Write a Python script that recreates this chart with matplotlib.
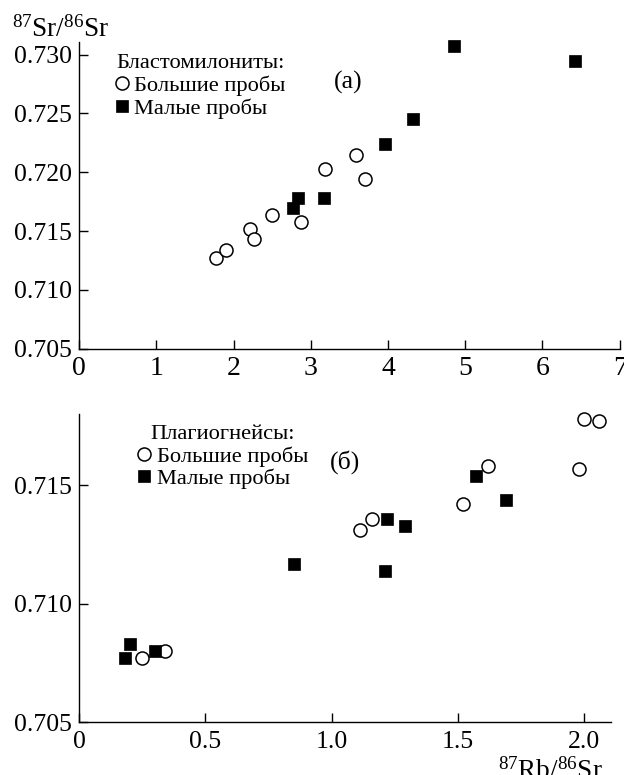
import matplotlib
matplotlib.use("Agg")
import matplotlib.pyplot as plt
from matplotlib.lines import Line2D

plt.rcParams['font.family'] = ['Liberation Serif', 'DejaVu Sans']
plt.rcParams['mathtext.fontset'] = 'custom'
plt.rcParams['mathtext.rm'] = 'Liberation Serif'
plt.rcParams['mathtext.it'] = 'Liberation Serif:italic'

# Panel (a): blastomylonites
a_big_x = [1.77, 1.90, 2.21, 2.26, 2.50, 2.87, 3.19, 3.59, 3.70]
a_big_y = [0.7127, 0.7134, 0.7152, 0.7143, 0.7164, 0.7158, 0.7203, 0.7215, 0.7194]
a_small_x = [2.77, 2.84, 3.17, 3.96, 4.32, 4.85, 6.42]
a_small_y = [0.7170, 0.7178, 0.7178, 0.7224, 0.7245, 0.7307, 0.7295]

# Panel (б): plagiogneisses
b_big_x = [0.25, 0.34, 1.11, 1.16, 1.52, 1.62, 1.98, 2.00, 2.06]
b_big_y = [0.7077, 0.7080, 0.7131, 0.7136, 0.7142, 0.7158, 0.7157, 0.7178, 0.7177]
b_small_x = [0.18, 0.20, 0.30, 0.85, 1.21, 1.22, 1.29, 1.57, 1.69]
b_small_y = [0.7077, 0.7083, 0.7080, 0.7117, 0.7114, 0.7136, 0.7133, 0.7154, 0.7144]

a_xticks = [0, 1, 2, 3, 4, 5, 6, 7]
a_yticks = [0.705, 0.710, 0.715, 0.720, 0.725, 0.730]
b_xticks = [0, 0.5, 1.0, 1.5, 2.0]
b_xticklabels = ['0', '0.5', '1.0', '1.5', '2.0']
b_yticks = [0.705, 0.710, 0.715]

W, H = 624, 775
fig = plt.figure(figsize=(W / 100, H / 100), dpi=100)

def px_axes(l, t, r, b):
    return fig.add_axes([l / W, 1 - b / H, (r - l) / W, (b - t) / H])

ax1 = px_axes(79.2, 41.7, 619.6, 348.7)
ax2 = px_axes(79.2, 414.3, 610.8, 722.3)

FS = 18.5
big_kw = dict(marker='o', ms=9.4, mfc='white', mec='black', mew=1.1, ls='none', clip_on=False)
small_kw = dict(marker='s', ms=8.3, mfc='black', mec='black', mew=0.5, ls='none', clip_on=False)

for ax in (ax1, ax2):
    for s in ('top', 'right'):
        ax.spines[s].set_visible(False)
    for s in ('left', 'bottom'):
        ax.spines[s].set_linewidth(1.0)
    ax.tick_params(direction='in', length=6.5, width=1.0, labelsize=FS, pad=5)
ax1.tick_params(axis='x', labelsize=20, pad=5)
ax2.tick_params(axis='x', pad=6)

ax1.plot(a_big_x, a_big_y, **big_kw)
ax1.plot(a_small_x, a_small_y, **small_kw)
ax1.set_xlim(0, 7)
ax1.set_ylim(0.705, 0.7311)
ax1.set_xticks(a_xticks)
ax1.set_xticklabels([str(v) for v in a_xticks])
ax1.set_yticks(a_yticks)
ax1.set_yticklabels(['%.3f' % v for v in a_yticks])

ax2.plot(b_big_x, b_big_y, **big_kw)
ax2.plot(b_small_x, b_small_y, **small_kw)
ax2.set_xlim(0, 2.105)
ax2.set_ylim(0.705, 0.7180)
ax2.set_xticks(b_xticks)
ax2.set_xticklabels(b_xticklabels)
ax2.set_yticks(b_yticks)
ax2.set_yticklabels(['%.3f' % v for v in b_yticks])

LFS = 16.2
def make_legend(ax, title, anchor):
    h = [Line2D([], [], **{k: v for k, v in big_kw.items() if k != 'clip_on'}),
         Line2D([], [], **{k: v for k, v in small_kw.items() if k != 'clip_on'})]
    leg = ax.legend(h, ['Большие пробы', 'Малые пробы'], title=title,
                    frameon=False, fontsize=LFS, title_fontsize=LFS,
                    handlelength=0.6, handletextpad=0.25, labelspacing=0.08,
                    borderpad=0, borderaxespad=0, loc='upper left',
                    bbox_to_anchor=(anchor[0] / W, 1 - anchor[1] / H),
                    bbox_transform=fig.transFigure)
    return leg

make_legend(ax1, 'Бластомилониты:', (115, 54.5))
make_legend(ax2, 'Плагиогнейсы:', (137.5, 425))

fig.text(348 / W, 1 - 82 / H, '(а)', fontsize=FS, ha='center', va='center')
fig.text(345 / W, 1 - 462 / H, '(б)', fontsize=FS, ha='center', va='center')

fig.text(12 / W, 1 - 36.5 / H, r'$^{87}$Sr/$^{86}$Sr', fontsize=19.5, ha='left', va='baseline')
fig.text(603 / W, 1 - 779 / H, r'$^{87}$Rb/$^{86}$Sr', fontsize=19.5, ha='right', va='baseline')

fig.savefig('out.png', dpi=100)
